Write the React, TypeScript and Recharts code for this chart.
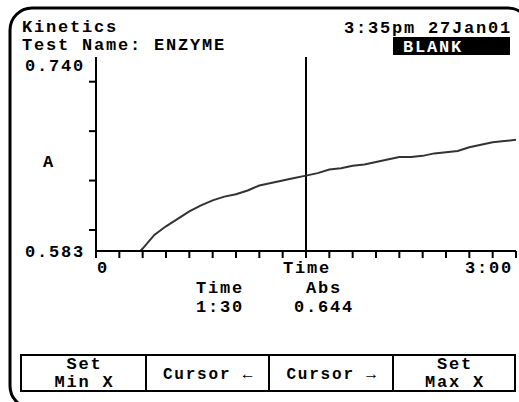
import React from 'react';
import { LineChart, Line, XAxis, YAxis, ReferenceLine } from 'recharts';

const timeSec = [19, 20, 25, 30, 35, 40, 45, 50, 55, 60, 65, 70, 75, 80, 85, 90, 95, 100, 105, 110, 115, 120, 125, 130, 135, 140, 145, 150, 155, 160, 165, 170, 175, 180];
const absValues = [0.583, 0.585, 0.596, 0.603, 0.609, 0.615, 0.620, 0.624, 0.627, 0.629, 0.632, 0.636, 0.638, 0.640, 0.642, 0.644, 0.646, 0.649, 0.650, 0.652, 0.653, 0.655, 0.657, 0.659, 0.659, 0.660, 0.662, 0.663, 0.664, 0.667, 0.669, 0.671, 0.672, 0.673];
const xTicks = [0, 10, 20, 30, 40, 50, 60, 70, 80, 90, 100, 110, 120, 130, 140, 150, 160, 170, 180];
const yTicks = [0.583, 0.6, 0.64, 0.68, 0.72, 0.74];
const yDomain = [0.583, 0.74];
const xDomain = [0, 180];
const cursorTime = 90;
const cursorLabel = '1:30';
const cursorAbs = '0.644';
const xTickLabels: Record<number, string> = { 0: '0', 90: 'Time', 180: '3:00' };
const yTickLabels: Record<number, string> = { 0.583: '0.583', 0.74: '0.740' };
const buttons = [
  ['Set', 'Min X'],
  ['Cursor \u2190'],
  ['Cursor \u2192'],
  ['Set', 'Max X'],
];

const data = timeSec.map((t, i) => ({ t, abs: absValues[i] }));

const FONT = '"Liberation Mono", "DejaVu Sans Mono", monospace';
const FS = 17;
const LS = 1.8;

const YTick = (props: any) => {
  const { x, y, payload } = props;
  const v = payload.value;
  const label = yTickLabels[v];
  if (label) {
    const isTop = v === yDomain[1];
    return (
      <text x={x - 4} y={isTop ? y + 14 : y + 6} textAnchor="end" fontFamily={FONT} fontWeight="bold" fontSize={FS} letterSpacing={LS} fill="#000">
        {label}
      </text>
    );
  }
  return <line x1={x} x2={x + 7} y1={y} y2={y} stroke="#000" strokeWidth={2} />;
};

const XTick = (props: any) => {
  const { x, y, payload } = props;
  const v = payload.value;
  const label = xTickLabels[v];
  if (!label) return null;
  const anchor = v === xDomain[0] ? 'start' : v === xDomain[1] ? 'end' : 'middle';
  const dx = v === xDomain[0] ? 1 : v === xDomain[1] ? -3 : 1;
  return (
    <text x={x + dx} y={y + 15} textAnchor={anchor} fontFamily={FONT} fontWeight="bold" fontSize={FS} letterSpacing={LS} fill="#000">
      {label}
    </text>
  );
};

export default function App() {
  const btnX = [21, 146, 269, 393, 515];
  return (
    <div style={{ position: 'absolute', left: 0, top: 0, width: 519, height: 402, background: '#fff', overflow: 'hidden' }}>
      <LineChart width={519} height={402} data={data} margin={{ top: 57, right: 3, bottom: 121, left: 36 }}>
        <XAxis
          dataKey="t"
          type="number"
          domain={xDomain}
          ticks={xTicks}
          interval={0}
          tickSize={7}
          tickMargin={0}
          height={30}
          axisLine={{ stroke: '#000', strokeWidth: 2 }}
          tickLine={{ stroke: '#000', strokeWidth: 2 }}
          tick={<XTick />}
        />
        <YAxis
          type="number"
          domain={yDomain}
          ticks={yTicks}
          interval={0}
          width={60}
          tickSize={7}
          tickMargin={0}
          axisLine={{ stroke: '#000', strokeWidth: 2 }}
          tickLine={false}
          tick={<YTick />}
          allowDataOverflow
        />
        <ReferenceLine x={cursorTime} stroke="#000" strokeWidth={2} ifOverflow="extendDomain" />
        <Line type="linear" dataKey="abs" stroke="#333" strokeWidth={2} dot={false} isAnimationActive={false} />
      </LineChart>
      <svg width={519} height={402} style={{ position: 'absolute', left: 0, top: 0, pointerEvents: 'none' }}>
        <rect x={10} y={8} width={520} height={400} rx={22} ry={22} fill="none" stroke="#000" strokeWidth={3} />
        <g fontFamily={FONT} fontWeight="bold" fontSize={FS} letterSpacing={LS} fill="#000">
          <text x={22} y={32}>Kinetics</text>
          <text x={22} y={50}>Test Name: ENZYME</text>
          <text x={512} y={33} textAnchor="end">3:35pm 27Jan01</text>
          <rect x={393} y={37} width={117} height={18} fill="#000" />
          <text x={403} y={52} fill="#fff">BLANK</text>
          <text x={49} y={167} textAnchor="middle">A</text>
          <text x={220} y={293} textAnchor="middle">Time</text>
          <text x={220} y={312} textAnchor="middle">{cursorLabel}</text>
          <text x={324} y={293} textAnchor="middle">Abs</text>
          <text x={324} y={312} textAnchor="middle">{cursorAbs}</text>
        </g>
        <rect x={21} y={355} width={494} height={36} fill="none" stroke="#000" strokeWidth={2} />
        {btnX.slice(1, 4).map((bx) => (
          <line key={bx} x1={bx} x2={bx} y1={355} y2={391} stroke="#000" strokeWidth={2} />
        ))}
        <g fontFamily={FONT} fontWeight="bold" fill="#000" letterSpacing={LS}>
          {buttons.map((lines, i) => {
            const cx = (btnX[i] + btnX[i + 1]) / 2 + 1;
            if (lines.length === 2) {
              return (
                <g key={i}>
                  <text x={cx} y={369} textAnchor="middle" fontSize={FS}>{lines[0]}</text>
                  <text x={cx} y={387} textAnchor="middle" fontSize={FS}>{lines[1]}</text>
                </g>
              );
            }
            return (
              <text key={i} x={cx} y={379} textAnchor="middle" fontSize={16}>{lines[0]}</text>
            );
          })}
        </g>
      </svg>
    </div>
  );
}
